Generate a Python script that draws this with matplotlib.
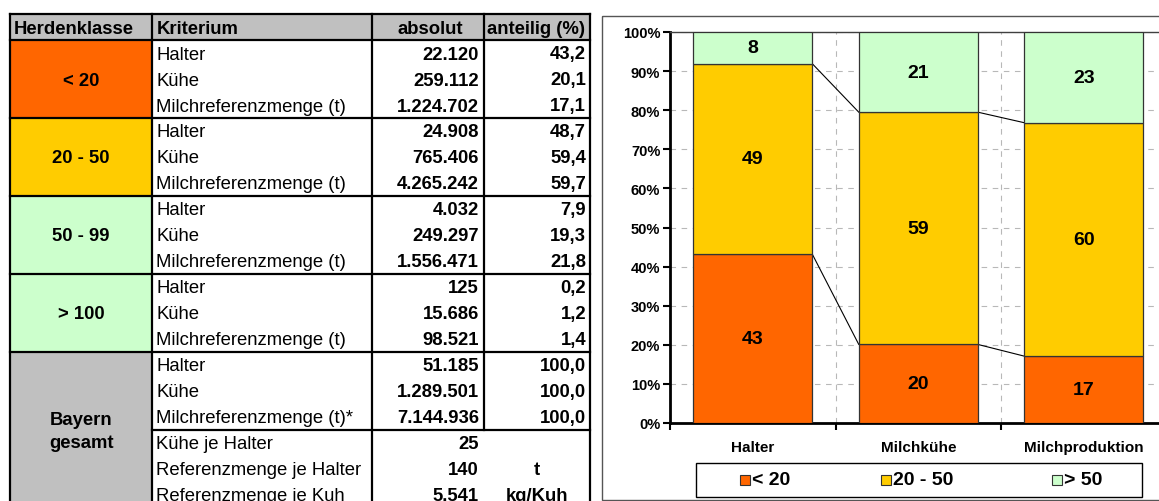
import math
import matplotlib.pyplot as plt
from matplotlib.patches import Rectangle

plt.rcParams['font.family'] = ['Liberation Sans', 'DejaVu Sans']

# --- table data ---
klassen = ['< 20', '20 - 50', '50 - 99', '> 100']
kriterien = ['Halter', 'Kühe', 'Milchreferenzmenge (t)']
absolut = [
    ['22.120', '259.112', '1.224.702'],
    ['24.908', '765.406', '4.265.242'],
    ['4.032', '249.297', '1.556.471'],
    ['125', '15.686', '98.521'],
]
anteilig = [
    ['43,2', '20,1', '17,1'],
    ['48,7', '59,4', '59,7'],
    ['7,9', '19,3', '21,8'],
    ['0,2', '1,2', '1,4'],
]
gesamt_kriterien = ['Halter', 'Kühe', 'Milchreferenzmenge (t)*']
gesamt_absolut = ['51.185', '1.289.501', '7.144.936']
gesamt_anteilig = ['100,0', '100,0', '100,0']
kennzahlen = ['Kühe je Halter', 'Referenzmenge je Halter', 'Referenzmenge je Kuh']
kennzahl_werte = ['25', '140', '5.541']
kennzahl_einheiten = ['', 't', 'kg/Kuh']

# --- chart data (% share) ---
kategorien = ['Halter', 'Milchkühe', 'Milchproduktion']
serien = ['< 20', '20 - 50', '> 50']
anteil_unter20 = [43.2, 20.1, 17.1]
anteil_20bis50 = [48.7, 59.4, 59.7]
anteil_ueber50 = [8.1, 20.5, 23.2]

ORANGE = '#ff6600'
GELB = '#ffcc00'
GRUEN = '#ccffcc'
GRAU = '#c0c0c0'
klassen_farben = [ORANGE, GELB, GRUEN, GRUEN]
serien_farben = [ORANGE, GELB, GRUEN]

W, H = 1159, 502
fig = plt.figure(figsize=(W / 100, H / 100), dpi=100)

# pixel-coordinate canvas for the table, frame and legend
bg = fig.add_axes([0, 0, 1, 1])
bg.set_xlim(0, W)
bg.set_ylim(H, 0)
bg.axis('off')

cols = [10, 152, 372, 484, 590]
ROW = 26
FS = 13.3

def zelle(x, y, s, ha='left', bold=False):
    bg.text(x, y, s, ha=ha, va='center', fontsize=FS,
            fontweight='bold' if bold else 'normal', color='black')

# header
bg.add_patch(Rectangle((cols[0], 15), cols[4] - cols[0], ROW, fc=GRAU, ec='none'))
hy = 15 + ROW / 2 + 1
zelle(14, hy, 'Herdenklasse', bold=True)
zelle(157, hy, 'Kriterium', bold=True)
zelle((cols[2] + cols[3]) / 2 + 2, hy, 'absolut', ha='center', bold=True)
zelle(487, hy, 'anteilig (%)', bold=True)

# herd size groups
for g, klasse in enumerate(klassen):
    y0 = 41 + 3 * ROW * g
    bg.add_patch(Rectangle((cols[0], y0), cols[1] - cols[0], 3 * ROW,
                           fc=klassen_farben[g], ec='none'))
    zelle((cols[0] + cols[1]) / 2, y0 + 1.5 * ROW + 1, klasse, ha='center', bold=True)
    for r in range(3):
        yr = y0 + ROW * r + ROW / 2 + 1
        zelle(156, yr, kriterien[r])
        zelle(cols[3] - 5, yr, absolut[g][r], ha='right', bold=True)
        zelle(cols[4] - 4, yr, anteilig[g][r], ha='right', bold=True)

# Bayern gesamt
yb = 41 + 12 * ROW
bg.add_patch(Rectangle((cols[0], yb), cols[1] - cols[0], H - yb + 10, fc=GRAU, ec='none'))
bg.text((cols[0] + cols[1]) / 2, yb + 3 * ROW + 1, 'Bayern\ngesamt', ha='center',
        va='center', fontsize=FS, fontweight='bold', linespacing=1.4)
for r in range(3):
    yr = yb + ROW * r + ROW / 2 + 1
    zelle(156, yr, gesamt_kriterien[r])
    zelle(cols[3] - 5, yr, gesamt_absolut[r], ha='right', bold=True)
    zelle(cols[4] - 4, yr, gesamt_anteilig[r], ha='right', bold=True)
yk = yb + 3 * ROW
for r in range(3):
    yr = yk + ROW * r + ROW / 2 + 1
    zelle(156, yr, kennzahlen[r])
    zelle(cols[3] - 5, yr, kennzahl_werte[r], ha='right', bold=True)
    zelle((cols[3] + cols[4]) / 2, yr, kennzahl_einheiten[r], ha='center', bold=True)

# table rules
LW = 1.6
for y in [15, 41, 41 + 3 * ROW, 41 + 6 * ROW, 41 + 9 * ROW, yb]:
    bg.plot([cols[0], cols[4]], [y, y], color='black', lw=LW, solid_capstyle='projecting')
bg.plot([cols[1], cols[4]], [yk, yk], color='black', lw=LW)
for x in [cols[0], cols[1], cols[2], cols[4]]:
    bg.plot([x, x], [15, H + 5], color='black', lw=LW)
bg.plot([cols[3], cols[3]], [15, yk], color='black', lw=LW)

# chart frame
bg.add_patch(Rectangle((602, 17), 620, 484, fill=False, ec='#555555', lw=1))

# legend
bg.add_patch(Rectangle((696, 464), 446, 34, fc='white', ec='black', lw=1))
for name, farbe, lx in zip(serien, serien_farben, [740, 881, 1052]):
    bg.add_patch(Rectangle((lx, 476), 10, 10, fc=farbe, ec='#333333', lw=0.8))
    bg.text(lx + 12, 481, name, ha='left', va='center', fontsize=14, fontweight='bold')

# --- stacked bar chart ---
ax = fig.add_axes([670 / W, (H - 424) / H, 496.5 / W, 391 / H])
x = list(range(len(kategorien)))
bw = 119 / 165.5
werte = [anteil_unter20, anteil_20bis50, anteil_ueber50]
unten = [0.0] * 3
kumuliert = []
for vals, farbe in zip(werte, serien_farben):
    ax.bar(x, vals, bw, bottom=unten, color=farbe, edgecolor='#333333', lw=0.9, zorder=3)
    for i, v in enumerate(vals):
        ax.text(i, unten[i] + v / 2, str(int(math.floor(v + 0.5))), ha='center',
                va='center', fontsize=14, fontweight='bold', zorder=4)
    unten = [u + v for u, v in zip(unten, vals)]
    kumuliert.append(list(unten))

# series lines between bars
for cum in kumuliert[:2]:
    for i in range(len(x) - 1):
        ax.plot([i + bw / 2, i + 1 - bw / 2], [cum[i], cum[i + 1]], color='black',
                lw=0.8, zorder=2)

ax.set_xlim(-0.5, 2.5)
ax.set_ylim(0, 100)
ax.set_yticks(range(0, 101, 10))
ax.set_yticklabels([f'{v}%' for v in range(0, 101, 10)], fontweight='bold')
ax.set_xticks(x)
ax.set_xticklabels(kategorien, fontweight='bold')
ax.set_xticks([-0.5, 0.5, 1.5, 2.5], minor=True)
ax.tick_params(axis='y', direction='out', length=5, width=1.5, labelsize=10.5, pad=2)
ax.tick_params(axis='x', which='major', length=0, labelsize=11, pad=12)
ax.tick_params(axis='x', which='minor', direction='out', length=5, width=1.5)
ax.yaxis.grid(True, ls=(0, (5, 5)), color='#b8b8b8', lw=0.8)
ax.xaxis.grid(True, which='minor', ls=(0, (5, 5)), color='#b8b8b8', lw=0.8)
ax.set_axisbelow(True)
ax.spines['left'].set_linewidth(2)
ax.spines['bottom'].set_linewidth(2)
ax.spines['top'].set_linewidth(1)
ax.spines['top'].set_color('#404040')
ax.spines['right'].set_visible(False)

fig.savefig('out.png', dpi=100)
